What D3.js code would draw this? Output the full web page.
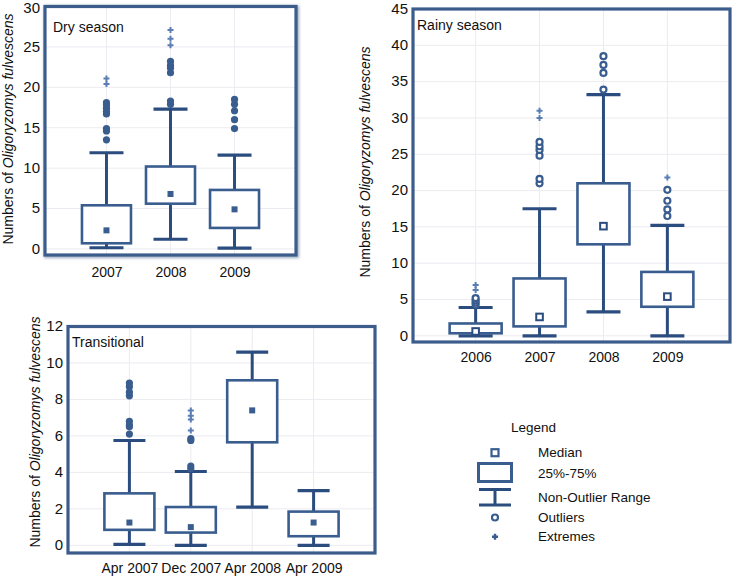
<!DOCTYPE html>
<html><head><meta charset="utf-8">
<script src="https://cdn.jsdelivr.net/npm/d3@7"></script>
<style>body{margin:0;background:#fff}svg{display:block;font-family:"Liberation Sans",Arial,sans-serif}</style>
</head><body>
<svg id="c" width="733" height="577"></svg>
<script>
// ---- Dry season ----
const dryCats = ["2007","2008","2009"];
const dryLow = [0.15, 1.2, 0.1];
const dryQ1 = [0.7, 5.6, 2.6];
const dryMed = [2.3, 6.8, 4.9];
const dryQ3 = [5.4, 10.2, 7.3];
const dryHigh = [11.9, 17.3, 11.6];
const dryOut = [[13.5,14.6,14.9,16.7,17.0,17.4,17.8,18.1],[17.9,18.3,21.8,22.4,22.7,23.2],[14.9,16.0,17.1,17.9,18.5]];
const dryExt = [[20.4,21.1],[25.2,26.0,27.1],[]];
const dryTicks = [0,5,10,15,20,25,30];

// ---- Rainy season ----
const rainyCats = ["2006","2007","2008","2009"];
const rainyLow = [0, 0, 3.3, 0];
const rainyQ1 = [0.35, 1.3, 12.6, 4.0];
const rainyMed = [0.6, 2.6, 15.1, 5.4];
const rainyQ3 = [1.7, 7.9, 21.0, 8.8];
const rainyHigh = [3.9, 17.5, 33.2, 15.2];
const rainyOut = [[4.3,4.6,4.9,5.2],[21.0,21.6,24.8,25.6,26.1,26.7],[33.9,36.2,37.3,38.5],[16.5,17.4,18.6,20.1]];
const rainyExt = [[6.3,7.0],[30.0,31.0],[],[21.8]];
const rainyTicks = [0,5,10,15,20,25,30,35,40,45];

// ---- Transitional ----
const transCats = ["Apr 2007","Dec 2007","Apr 2008","Apr 2009"];
const transLow = [0.05, 0, 2.1, 0];
const transQ1 = [0.85, 0.7, 5.65, 0.5];
const transMed = [1.25, 1.0, 7.4, 1.25];
const transQ3 = [2.85, 2.1, 9.05, 1.85];
const transHigh = [5.75, 4.05, 10.6, 3.0];
const transOut = [[6.1,6.5,6.6,6.8,8.2,8.4,8.7,8.9],[4.2,4.35,5.75,5.85],[],[]];
const transExt = [[],[6.3,6.9,7.1,7.4],[],[]];
const transTicks = [0,2,4,6,8,10,12];

const yLabelMain = "Numbers of ";
const yLabelItalic = "Oligoryzomys fulvescens";

const C_DARK = "#2b4c7e", C_BOX = "#3a5d8f", C_FRAME = "#3c5c8c", C_EXT = "#5a7eb4", C_GRID = "#ebebf1";

const svg = d3.select("#c");
const defs = svg.append("defs");
const f = defs.append("filter").attr("id","sh").attr("x","-5%").attr("y","-5%").attr("width","110%").attr("height","110%");
f.append("feGaussianBlur").attr("stdDeviation",1.5);

function plusPath(cx, cy, s){ return `M${cx-s},${cy}H${cx+s}M${cx},${cy-s}V${cy+s}`; }

function panel(o){
  const g = svg.append("g");
  const x = d3.scalePoint().domain(o.cats).range([o.x0,o.x1]).padding(o.pad);
  const y = d3.scaleLinear().domain(o.ydom).range([o.y1,o.y0]);
  if(o.shadow){
    g.append("rect").attr("x",o.x0+1).attr("y",o.y0+1).attr("width",o.x1-o.x0).attr("height",o.y1-o.y0)
     .attr("fill","none").attr("stroke","#9aa8c0").attr("stroke-width",4).attr("filter","url(#sh)");
  }
  g.append("rect").attr("x",o.x0).attr("y",o.y0).attr("width",o.x1-o.x0).attr("height",o.y1-o.y0).attr("fill","#fff");
  // grid
  g.selectAll(".hg").data(o.ticks).join("line").attr("x1",o.x0).attr("x2",o.x1)
   .attr("y1",d=>y(d)).attr("y2",d=>y(d)).attr("stroke",C_GRID).attr("stroke-width",1);
  g.selectAll(".vg").data(o.cats).join("line").attr("y1",o.y0).attr("y2",o.y1)
   .attr("x1",d=>x(d)).attr("x2",d=>x(d)).attr("stroke",C_GRID).attr("stroke-width",1);
  // y axis labels
  const ya = d3.axisLeft(y).tickValues(o.ticks).tickSize(0).tickPadding(5);
  const yg = g.append("g").attr("transform",`translate(${o.x0},0)`).call(ya);
  yg.select(".domain").remove();
  yg.selectAll("text").attr("font-size",15).attr("fill","#111").attr("font-family","Liberation Sans, Arial, sans-serif");
  // keep the top label inside the page
  yg.selectAll(".tick").attr("transform",d=>`translate(0,${Math.max(y(d),8.5)})`);
  // x axis labels
  const xa = d3.axisBottom(x).tickSize(0).tickPadding(o.xpad);
  const xg = g.append("g").attr("transform",`translate(0,${o.y1})`).call(xa);
  xg.select(".domain").remove();
  xg.selectAll("text").attr("font-size",14).attr("fill","#111").attr("font-family","Liberation Sans, Arial, sans-serif");
  // y title
  const t = g.append("text").attr("transform",`translate(${o.ylx},${o.yly}) rotate(-90)`)
    .attr("text-anchor","middle").attr("font-size",14).attr("fill","#111");
  t.append("tspan").text(yLabelMain);
  t.append("tspan").attr("font-style","italic").text(yLabelItalic);
  // panel title
  g.append("text").attr("x",o.tx).attr("y",o.ty).attr("font-size",14).attr("fill","#111").text(o.title);
  // boxes
  const rows = o.cats.map((c,i)=>({c,lo:o.lo[i],q1:o.q1[i],md:o.md[i],q3:o.q3[i],hi:o.hi[i],out:o.out[i],ext:o.ext[i]}));
  const bw = o.bw, cw = o.cw;
  rows.forEach(r=>{
    const cx = x(r.c);
    g.append("line").attr("x1",cx).attr("x2",cx).attr("y1",y(r.hi)).attr("y2",y(r.q3)).attr("stroke",C_DARK).attr("stroke-width",3);
    g.append("line").attr("x1",cx).attr("x2",cx).attr("y1",y(r.q1)).attr("y2",y(r.lo)).attr("stroke",C_DARK).attr("stroke-width",3);
    g.append("line").attr("x1",cx-cw/2).attr("x2",cx+cw/2).attr("y1",y(r.hi)).attr("y2",y(r.hi)).attr("stroke",C_DARK).attr("stroke-width",3.2);
    g.append("line").attr("x1",cx-cw/2).attr("x2",cx+cw/2).attr("y1",y(r.lo)).attr("y2",y(r.lo)).attr("stroke",C_DARK).attr("stroke-width",3.2);
    g.append("rect").attr("x",cx-bw/2).attr("y",y(r.q3)).attr("width",bw).attr("height",y(r.q1)-y(r.q3))
     .attr("fill","#fff").attr("stroke",C_BOX).attr("stroke-width",2.6);
    if(o.hollow){
      g.append("rect").attr("x",cx-3.3).attr("y",y(r.md)-3.3).attr("width",6.6).attr("height",6.6)
       .attr("fill","#fff").attr("stroke",C_DARK).attr("stroke-width",2);
    } else {
      g.append("rect").attr("x",cx-3).attr("y",y(r.md)-3).attr("width",6).attr("height",6).attr("fill",C_BOX);
    }
    r.out.forEach(v=>{
      if(o.hollow) g.append("circle").attr("cx",cx).attr("cy",y(v)).attr("r",3).attr("fill","#fff").attr("stroke",C_BOX).attr("stroke-width",2.2);
      else g.append("circle").attr("cx",cx).attr("cy",y(v)).attr("r",3.6).attr("fill",C_BOX);
    });
    r.ext.forEach(v=>{
      g.append("path").attr("d",plusPath(cx,y(v),3)).attr("stroke",C_EXT).attr("stroke-width",2).attr("fill","none");
    });
  });
  g.append("rect").attr("x",o.x0).attr("y",o.y0).attr("width",o.x1-o.x0).attr("height",o.y1-o.y0)
   .attr("fill","none").attr("stroke",C_FRAME).attr("stroke-width",3.2);
}

panel({cats:dryCats,lo:dryLow,q1:dryQ1,md:dryMed,q3:dryQ3,hi:dryHigh,out:dryOut,ext:dryExt,ticks:dryTicks,
  x0:45,x1:296,y0:6.5,y1:255,ydom:[-0.75,30],pad:0.96,bw:49,cw:34,xpad:12,
  ylx:13,yly:129,tx:53,ty:32,title:"Dry season",hollow:false,shadow:true});
panel({cats:rainyCats,lo:rainyLow,q1:rainyQ1,md:rainyMed,q3:rainyQ3,hi:rainyHigh,out:rainyOut,ext:rainyExt,ticks:rainyTicks,
  x0:413,x1:730,y0:9,y1:342,ydom:[-0.85,45],pad:0.98,bw:52,cw:34,xpad:10,
  ylx:370,yly:162,tx:417,ty:30,title:"Rainy season",hollow:true,shadow:false});
panel({cats:transCats,lo:transLow,q1:transQ1,md:transMed,q3:transQ3,hi:transHigh,out:transOut,ext:transExt,ticks:transTicks,
  x0:68,x1:375,y0:326.5,y1:553,ydom:[-0.42,12],pad:1.0,bw:50,cw:32,xpad:10,
  ylx:40,yly:432,tx:72,ty:347,title:"Transitional",hollow:false,shadow:false});

// ---- Legend ----
const legendItems = ["Median","25%-75%","Non-Outlier Range","Outliers","Extremes"];
const lg = svg.append("g");
lg.append("text").attr("x",511).attr("y",432).attr("font-size",13.5).attr("fill","#111").text("Legend");
const lx = 495;
lg.append("rect").attr("x",lx-3.5).attr("y",449.2).attr("width",7).attr("height",7).attr("fill","#fff").attr("stroke",C_BOX).attr("stroke-width",2.2);
lg.append("rect").attr("x",lx-16.5).attr("y",463.5).attr("width",33).attr("height",18).attr("fill","#fff").attr("stroke",C_BOX).attr("stroke-width",3);
lg.append("line").attr("x1",lx-16).attr("x2",lx+16).attr("y1",489.5).attr("y2",489.5).attr("stroke",C_DARK).attr("stroke-width",3);
lg.append("line").attr("x1",lx-16).attr("x2",lx+16).attr("y1",505).attr("y2",505).attr("stroke",C_DARK).attr("stroke-width",3);
lg.append("line").attr("x1",lx).attr("x2",lx).attr("y1",489.5).attr("y2",505).attr("stroke",C_DARK).attr("stroke-width",3);
lg.append("circle").attr("cx",lx).attr("cy",517.5).attr("r",3).attr("fill","#fff").attr("stroke",C_BOX).attr("stroke-width",2.2);
lg.append("path").attr("d",plusPath(lx,536.7,3)).attr("stroke",C_BOX).attr("stroke-width",2.4);
const lys = [457,478,502,522,541];
lg.selectAll(".lt").data(legendItems).join("text").attr("x",538).attr("y",(d,i)=>lys[i])
  .attr("font-size",13.5).attr("fill","#111").text(d=>d);
</script>
</body></html>
